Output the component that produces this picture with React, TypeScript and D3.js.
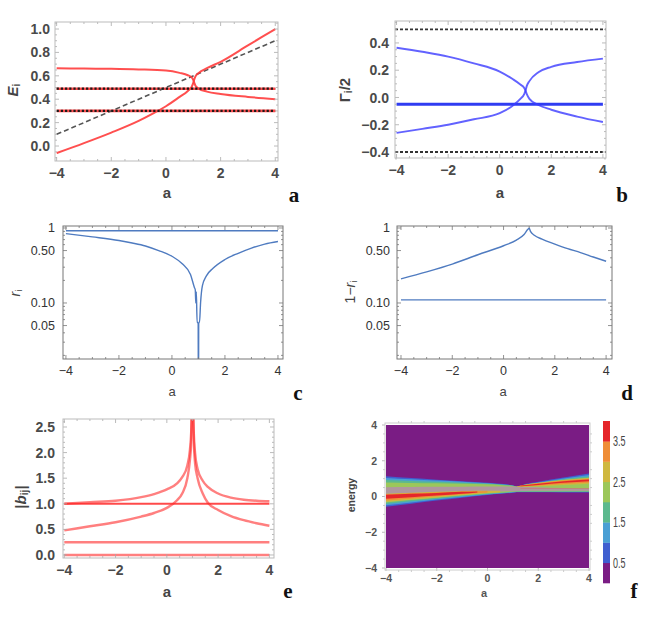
import { useEffect, useRef } from "react";
import * as d3 from "d3";

type Pt = [number, number];

const W = 654;
const H = 628;

// shared x axis (parameter a)
const aTicks = [-4, -2, 0, 2, 4];

// (a) real parts E_i
const eTicks = [0, 0.2, 0.4, 0.6, 0.8, 1.0];
const eFlat = [0.49, 0.3];
const eDiag: Pt[] = [[-4, 0.1], [4, 0.9]];
const eUpper: Pt[] = [[-4, 0.664], [-3, 0.662], [-2, 0.66], [-1, 0.655], [0, 0.645], [0.5, 0.625], [0.8, 0.605], [0.95, 0.585], [1.0, 0.565], [1.03, 0.545], [1.08, 0.515], [1.2, 0.49], [1.5, 0.465], [2, 0.445], [3, 0.42], [4, 0.4]];
const eLower: Pt[] = [[-4, -0.06], [-3, 0.025], [-2, 0.115], [-1, 0.215], [-0.5, 0.275], [0, 0.34], [0.5, 0.42], [0.8, 0.47], [0.95, 0.51], [1.0, 0.54], [1.03, 0.565], [1.08, 0.595], [1.2, 0.625], [1.5, 0.665], [2, 0.72], [3, 0.86], [4, 1.0]];

// (b) widths Gamma_i/2
const gTicks = [-0.4, -0.2, 0, 0.2, 0.4];
const gDashed = [0.5, -0.4];
const gFlat = -0.05;
const gUpper: Pt[] = [[-4, 0.365], [-3, 0.335], [-2, 0.3], [-1, 0.25], [0, 0.19], [0.5, 0.135], [0.8, 0.095], [0.95, 0.07], [1.0, 0.05], [1.05, 0.025], [1.15, -0.01], [1.5, -0.055], [2, -0.09], [3, -0.14], [4, -0.18]];
const gLower: Pt[] = [[-4, -0.26], [-3, -0.23], [-2, -0.2], [-1, -0.16], [0, -0.115], [0.5, -0.06], [0.8, -0.01], [0.95, 0.025], [1.0, 0.05], [1.05, 0.085], [1.15, 0.12], [1.5, 0.185], [2, 0.225], [3, 0.26], [4, 0.285]];

// (c) r_i and (d) 1 - r_i, log axis
const logTicks = [0.05, 0.1, 0.5, 1];
const logLabels = ["0.05", "0.10", "0.50", "1"];
const rFlat = 0.92;
const rCurve: Pt[] = [[-4, 0.84], [-3, 0.76], [-2, 0.68], [-1.5, 0.63], [-1, 0.575], [-0.5, 0.5], [0, 0.42], [0.4, 0.33], [0.7, 0.24], [0.85, 0.16], [0.88, 0.15], [0.9, 0.1], [0.92, 0.14], [0.95, 0.055], [0.99, 0.055], [0.995, 0.01], [1.005, 0.01], [1.01, 0.055], [1.04, 0.055], [1.08, 0.1], [1.15, 0.17], [1.3, 0.23], [1.55, 0.29], [2, 0.38], [2.5, 0.46], [3, 0.54], [3.5, 0.61], [4, 0.66]];
const qFlat = 0.11;
const qCurve: Pt[] = [[-4, 0.21], [-3, 0.26], [-2, 0.33], [-1, 0.44], [0, 0.58], [0.5, 0.69], [0.8, 0.82], [0.95, 0.96], [1.0, 0.99], [1.05, 0.9], [1.2, 0.8], [1.5, 0.71], [2, 0.61], [2.5, 0.53], [3, 0.47], [3.5, 0.41], [4, 0.36]];

// (e) |b_ij|
const bTicks = [0, 0.5, 1, 1.5, 2, 2.5];
const bFlat = [1.0, 0.25, 0.0];
const bUpperLeft: Pt[] = [[-4, 1.0], [-3, 1.03], [-2, 1.06], [-1, 1.13], [-0.5, 1.19], [0, 1.28], [0.4, 1.4], [0.6, 1.52], [0.8, 1.75], [0.9, 2.05], [0.95, 2.4], [0.98, 2.9]];
const bUpperRight: Pt[] = [[1.02, 2.9], [1.05, 2.4], [1.1, 2.0], [1.2, 1.68], [1.4, 1.45], [1.6, 1.33], [2, 1.2], [2.5, 1.12], [3, 1.08], [3.5, 1.06], [4, 1.05]];
const bLowerLeft: Pt[] = [[-4, 0.48], [-3, 0.56], [-2, 0.64], [-1, 0.75], [-0.5, 0.82], [0, 0.92], [0.4, 1.07], [0.6, 1.2], [0.8, 1.5], [0.9, 1.85], [0.95, 2.2], [0.98, 2.9]];
const bLowerRight: Pt[] = [[1.02, 2.9], [1.05, 2.25], [1.1, 1.8], [1.2, 1.5], [1.4, 1.2], [1.6, 1.02], [2, 0.88], [2.5, 0.76], [3, 0.68], [3.5, 0.62], [4, 0.57]];

// (f) spectral density: contour bands
const fTicks = [-4, -2, 0, 2, 4];
const fGrid = [-4, -3, -2, -1, 0, 0.5, 1, 1.15, 1.5, 2, 3, 4];
const blueTop = [1.13, 1.03, 0.94, 0.86, 0.77, 0.71, 0.62, 0.56, 0.7, 0.83, 1.06, 1.28];
const blueBot = [-0.58, -0.4, -0.23, -0.07, 0.08, 0.15, 0.21, 0.24, 0.24, 0.24, 0.23, 0.22];
const tealTop = [1.04, 0.96, 0.89, 0.82, 0.74, 0.69, 0.61, 0.555, 0.67, 0.79, 1.01, 1.2];
const tealBot = [-0.49, -0.33, -0.17, -0.03, 0.11, 0.17, 0.23, 0.255, 0.255, 0.255, 0.25, 0.25];
const greenTop = [0.92, 0.87, 0.82, 0.77, 0.71, 0.67, 0.6, 0.55, 0.65, 0.76, 0.97, 1.12];
const greenBot = [-0.42, -0.27, -0.12, 0.01, 0.14, 0.19, 0.25, 0.27, 0.27, 0.27, 0.27, 0.27];
const ygTop = [0.78, 0.76, 0.74, 0.72, 0.68, 0.65, 0.59, 0.55, 0.63, 0.73, 0.93, 1.05];
const ygBot = [-0.33, -0.2, -0.07, 0.05, 0.17, 0.21, 0.27, 0.29, 0.29, 0.29, 0.29, 0.29];
const grayTop = [0.52, 0.53, 0.54, 0.55, 0.56, 0.56, 0.56, 0.55, 0.55, 0.52, 0.48, 0.46];
const grayBot = [0.13, 0.17, 0.21, 0.25, 0.27, 0.28, 0.29, 0.3, 0.31, 0.32, 0.32, 0.32];
const leftOliveA = [-4, -3, -2, -1, 0, 0.5];
const leftOliveTop = [0.16, 0.21, 0.26, 0.3, 0.32, 0.32];
const leftOliveBot = [-0.3, -0.17, -0.05, 0.08, 0.19, 0.24];
const leftOrangeA = [-4, -3, -2, -1, 0];
const leftOrangeTop = [0.13, 0.18, 0.23, 0.28, 0.3];
const leftOrangeBot = [-0.22, -0.11, 0.01, 0.13, 0.22];
const leftRedA = [-4, -3, -2, -1, -0.4];
const leftRedTop = [0.1, 0.15, 0.2, 0.26, 0.28];
const leftRedBot = [-0.12, -0.04, 0.05, 0.16, 0.23];
const rightHotA = [1.15, 1.5, 2, 3, 4];
const rightOliveTop = [0.56, 0.67, 0.77, 0.92, 1.03];
const rightOliveBot = [0.54, 0.55, 0.58, 0.65, 0.72];
const rightOrangeTop = [0.555, 0.65, 0.74, 0.89, 0.99];
const rightOrangeBot = [0.545, 0.57, 0.61, 0.7, 0.78];
const rightRedA = [1.3, 2, 3, 4];
const rightRedTop = [0.61, 0.71, 0.85, 0.95];
const rightRedBot = [0.58, 0.65, 0.77, 0.86];
const midLineA = [1.3, 4];
const midLineTop = [0.46, 0.46];
const midLineBot = [0.43, 0.43];

const levels = [0, 0.5, 1, 1.5, 2, 2.5, 3, 3.5, 4];
const levelColors = ["#7a1c84", "#3f5fd0", "#4a9fd4", "#5cb98e", "#9cc75a", "#cfb83f", "#ef8d37", "#e5262a"];
const barLabels = [0.5, 1.5, 2.5, 3.5];

const SANS = "Liberation Sans, Arial, sans-serif";
const SERIF = "Liberation Serif, Times New Roman, serif";
const fmtMinus = (s: string) => s.replace("-", "\u2212");

type Sel = d3.Selection<SVGGElement, unknown, null, undefined>;

interface FrameOpts {
  xMajor: number[];
  xMinor: number[];
  yMajor: number[];
  yMinor: number[];
  frame: string;
  tickColor: string;
  yLabels?: string[];
  yFmt: (v: number) => string;
  font: { size: number; weight: string; fill: string };
  xGap: number;
  yGap: number;
}

function drawFrame(g: Sel, x: any, y: any, o: FrameOpts) {
  const [x0, x1] = x.range();
  const [y0, y1] = y.range();
  const line = (ax: number, ay: number, bx: number, by: number, w = 0.8) =>
    g.append("line").attr("x1", ax).attr("y1", ay).attr("x2", bx).attr("y2", by)
      .attr("stroke", o.tickColor).attr("stroke-width", w);

  o.xMajor.forEach((v) => { const p = x(v); line(p, y0, p, y0 - 4); line(p, y1, p, y1 + 4); });
  o.xMinor.forEach((v) => { const p = x(v); line(p, y0, p, y0 - 2); line(p, y1, p, y1 + 2); });
  o.yMajor.forEach((v) => { const p = y(v); line(x0, p, x0 + 4, p); line(x1, p, x1 - 4, p); });
  o.yMinor.forEach((v) => { const p = y(v); line(x0, p, x0 + 2, p); line(x1, p, x1 - 2, p); });

  g.append("rect").attr("x", x0).attr("y", y1).attr("width", x1 - x0).attr("height", y0 - y1)
    .attr("fill", "none").attr("stroke", o.frame).attr("stroke-width", 1);

  const txt = (s: string, px: number, py: number, anchor: string) =>
    g.append("text").attr("x", px).attr("y", py).attr("text-anchor", anchor)
      .attr("font-family", SANS).attr("font-size", o.font.size).attr("font-weight", o.font.weight)
      .attr("fill", o.font.fill).text(s);

  o.xMajor.forEach((v) => txt(fmtMinus(String(v)), x(v), y0 + o.xGap, "middle"));
  o.yMajor.forEach((v, i) =>
    txt(o.yLabels ? o.yLabels[i] : fmtMinus(o.yFmt(v)), x0 - o.yGap, y(v) + o.font.size * 0.36, "end"));
}

function clip(svg: any, id: string, x: any, y: any) {
  const [x0, x1] = x.range();
  const [y0, y1] = y.range();
  svg.select("defs").append("clipPath").attr("id", id)
    .append("rect").attr("x", x0).attr("y", y1).attr("width", x1 - x0).attr("height", y0 - y1);
}

function rotLabel(svg: any, cx: number, cy: number, parts: [string, string, number][], size: number, weight = "normal") {
  const t = svg.append("text").attr("transform", `translate(${cx},${cy}) rotate(-90)`)
    .attr("text-anchor", "middle").attr("dominant-baseline", "middle")
    .attr("font-family", SANS).attr("font-size", size).attr("font-weight", weight).attr("fill", "#444");
  parts.forEach(([s, style, dy]) => {
    const sp = t.append("tspan").text(s);
    if (style === "i") sp.attr("font-style", "italic");
    if (style === "sub") sp.attr("font-size", size * 0.68).attr("dy", dy);
    if (style === "up") sp.attr("dy", dy);
  });
}

function panelLetter(svg: any, s: string, x: number, y: number) {
  svg.append("text").attr("x", x).attr("y", y).attr("text-anchor", "middle")
    .attr("font-family", SERIF).attr("font-size", 21).attr("font-weight", "bold").attr("fill", "#111").text(s);
}

function axisA(svg: any, x: number, y: number, size: number, weight: string) {
  svg.append("text").attr("x", x).attr("y", y).attr("text-anchor", "middle")
    .attr("font-family", SANS).attr("font-size", size).attr("font-weight", weight).attr("fill", "#444").text("a");
}

const minorRange = (lo: number, hi: number, step: number, majors: number[]) =>
  d3.range(lo, hi + step / 2, step).map((v) => +v.toFixed(4)).filter((v) => !majors.some((m) => Math.abs(m - v) < 1e-6));

export default function App() {
  const ref = useRef<SVGSVGElement>(null);

  useEffect(() => {
    if (!ref.current) return;
    const svg = d3.select(ref.current);
    svg.selectAll("*").remove();
    svg.append("defs");

    const xMinorA = minorRange(-4, 4, 0.5, aTicks);
    const boldFont = { size: 14, weight: "bold", fill: "#4a4a4a" };
    const plainFont = { size: 12.5, weight: "normal", fill: "#333" };

    // ---------- (a)
    {
      const x = d3.scaleLinear().domain([-4.06, 4.1]).range([55, 278]);
      const y = d3.scaleLinear().domain([-0.128, 1.06]).range([161, 22]);
      const g = svg.append("g");
      clip(svg, "ca", x, y);
      const line = d3.line<Pt>().x((d) => x(d[0])).y((d) => y(d[1])).curve(d3.curveMonotoneX);
      const pg = g.append("g").attr("clip-path", "url(#ca)");
      eFlat.forEach((v) => {
        pg.append("path").attr("d", line([[-4, v], [4, v]])).attr("stroke", "#ff4a4a").attr("stroke-width", 2.6).attr("fill", "none");
      });
      pg.append("path").attr("d", line(eDiag)).attr("stroke", "#555").attr("stroke-width", 1.6)
        .attr("stroke-dasharray", "5 3").attr("fill", "none");
      [eUpper, eLower].forEach((c) =>
        pg.append("path").attr("d", line(c)).attr("stroke", "#ff3c3c").attr("stroke-opacity", 0.9)
          .attr("stroke-width", 2).attr("fill", "none"));
      eFlat.forEach((v) => {
        pg.append("path").attr("d", line([[-4, v], [4, v]])).attr("stroke", "#1a1a1a").attr("stroke-width", 2.2)
          .attr("stroke-dasharray", "2.2 2").attr("fill", "none");
      });
      drawFrame(g, x, y, {
        xMajor: aTicks, xMinor: xMinorA, yMajor: eTicks, yMinor: minorRange(-0.1, 1.05, 0.05, eTicks),
        frame: "#bbb", tickColor: "#aaa", yFmt: (v) => v.toFixed(1), font: boldFont, xGap: 17, yGap: 5,
      });
      axisA(svg, 167, 198, 15, "bold");
      rotLabel(svg, 14, 90, [["E", "i", 0], ["i", "sub", 3]], 15, "bold");
      panelLetter(svg, "a", 294, 202);
    }

    // ---------- (b)
    {
      const x = d3.scaleLinear().domain([-4.06, 4.12]).range([395, 606]);
      const y = d3.scaleLinear().domain([-0.444, 0.561]).range([158, 21]);
      const g = svg.append("g");
      clip(svg, "cb", x, y);
      const line = d3.line<Pt>().x((d) => x(d[0])).y((d) => y(d[1])).curve(d3.curveMonotoneX);
      const pg = g.append("g").attr("clip-path", "url(#cb)");
      gDashed.forEach((v) =>
        pg.append("path").attr("d", line([[-4.06, v], [4.12, v]])).attr("stroke", "#333").attr("stroke-width", 1.8)
          .attr("stroke-dasharray", "3 2").attr("fill", "none"));
      pg.append("path").attr("d", line([[-4, gFlat], [4, gFlat]])).attr("stroke", "#2f3cf2").attr("stroke-width", 3).attr("fill", "none");
      [gUpper, gLower].forEach((c) =>
        pg.append("path").attr("d", line(c)).attr("stroke", "#3b3bff").attr("stroke-opacity", 0.8)
          .attr("stroke-width", 1.9).attr("fill", "none"));
      drawFrame(g, x, y, {
        xMajor: aTicks, xMinor: xMinorA, yMajor: gTicks, yMinor: minorRange(-0.45, 0.55, 0.05, gTicks),
        frame: "#bbb", tickColor: "#aaa", yFmt: (v) => v.toFixed(1), font: boldFont, xGap: 17, yGap: 6,
      });
      axisA(svg, 500, 198, 15, "bold");
      rotLabel(svg, 346, 90, [["\u0393", "", 0], ["i", "sub", 3], ["/2", "up", -3]], 15, "bold");
      panelLetter(svg, "b", 622, 202);
    }

    // ---------- (c) and (d)
    const logPanel = (id: string, xr: [number, number], xd: [number, number], flat: number, curve: Pt[], gap: number) => {
      const x = d3.scaleLinear().domain(xd).range(xr);
      const y = d3.scaleLog().domain([0.0179, 1.063]).range([359, 226]);
      const g = svg.append("g");
      clip(svg, id, x, y);
      const line = d3.line<Pt>().x((d) => x(d[0])).y((d) => y(d[1])).curve(d3.curveMonotoneX);
      const pg = g.append("g").attr("clip-path", `url(#${id})`);
      pg.append("path").attr("d", line([[-4, flat], [4, flat]])).attr("stroke", "#4f7bc0").attr("stroke-width", 1.4).attr("fill", "none");
      pg.append("path").attr("d", line(curve)).attr("stroke", "#4f7bc0").attr("stroke-width", 1.4).attr("fill", "none");
      const yMinor = [0.02, 0.03, 0.04, 0.06, 0.07, 0.08, 0.09, 0.2, 0.3, 0.4, 0.6, 0.7, 0.8, 0.9];
      drawFrame(g, x, y, {
        xMajor: aTicks, xMinor: xMinorA, yMajor: logTicks, yMinor, yLabels: logLabels,
        frame: "#777", tickColor: "#777", yFmt: (v) => String(v), font: plainFont, xGap: 16, yGap: gap,
      });
    };
    logPanel("cc", [63, 283], [-4.11, 4.19], rFlat, rCurve, 8);
    axisA(svg, 172, 396, 13, "normal");
    rotLabel(svg, 16, 293, [["r", "i", 0], ["i", "sub", 3]], 14);
    panelLetter(svg, "c", 298, 400);

    logPanel("cd", [397, 612], [-4.156, 4.23], qFlat, qCurve, 7);
    axisA(svg, 503, 396, 13, "normal");
    rotLabel(svg, 351, 292, [["1\u2212", "", 0], ["r", "i", 0], ["i", "sub", 3]], 14);
    panelLetter(svg, "d", 627, 400);

    // ---------- (e)
    {
      const x = d3.scaleLinear().domain([-4.05, 4.18]).range([63, 274]);
      const y = d3.scaleLinear().domain([-0.059, 2.656]).range([558, 419]);
      const g = svg.append("g");
      clip(svg, "ce", x, y);
      const line = d3.line<Pt>().x((d) => x(d[0])).y((d) => y(d[1])).curve(d3.curveMonotoneX);
      const pg = g.append("g").attr("clip-path", "url(#ce)");
      bFlat.forEach((v, i) =>
        pg.append("path").attr("d", line([[-4, v], [4, v]])).attr("stroke", "#ff2a2a")
          .attr("stroke-opacity", i === 0 ? 0.85 : 0.6).attr("stroke-width", i === 0 ? 2 : 2.4).attr("fill", "none"));
      [bUpperLeft, bUpperRight, bLowerLeft, bLowerRight].forEach((c) =>
        pg.append("path").attr("d", line(c)).attr("stroke", "#ff2a2a").attr("stroke-opacity", 0.6)
          .attr("stroke-width", 2.4).attr("fill", "none"));
      drawFrame(g, x, y, {
        xMajor: aTicks, xMinor: xMinorA, yMajor: bTicks, yMinor: minorRange(0, 2.6, 0.1, bTicks),
        frame: "#bbb", tickColor: "#aaa", yFmt: (v) => v.toFixed(1), font: boldFont, xGap: 17, yGap: 8,
      });
      axisA(svg, 167, 597, 15, "bold");
      rotLabel(svg, 22, 497, [["|", "", 0], ["b", "i", 0], ["ij", "sub", 3], ["|", "up", -3]], 15, "bold");
      panelLetter(svg, "e", 288, 598);
    }

    // ---------- (f)
    {
      const x = d3.scaleLinear().domain([-4, 4]).range([386, 589]);
      const y = d3.scaleLinear().domain([-4, 4]).range([568, 425]);
      const g = svg.append("g");
      clip(svg, "cf", x, y);
      svg.select("defs").append("filter").attr("id", "soft")
        .append("feGaussianBlur").attr("stdDeviation", 0.7);
      g.append("rect").attr("x", 386).attr("y", 425).attr("width", 203).attr("height", 143).attr("fill", levelColors[0]);
      const pg = g.append("g").attr("clip-path", "url(#cf)").append("g").attr("filter", "url(#soft)");
      const band = (a: number[], top: number[], bot: number[], color: string, op = 1) => {
        const pts = a.map((v, i) => ({ a: v, t: top[i], b: bot[i] }));
        const area = d3.area<{ a: number; t: number; b: number }>()
          .x((d) => x(d.a)).y0((d) => y(d.b)).y1((d) => y(d.t)).curve(d3.curveMonotoneX);
        pg.append("path").attr("d", area(pts)).attr("fill", color).attr("fill-opacity", op);
      };
      band(fGrid, blueTop, blueBot, levelColors[1]);
      band(fGrid, tealTop, tealBot, levelColors[2]);
      band(fGrid, greenTop, greenBot, levelColors[3]);
      band(fGrid, ygTop, ygBot, levelColors[4]);
      band(fGrid, grayTop, grayBot, "#b0979f");
      band(leftOliveA, leftOliveTop, leftOliveBot, levelColors[5]);
      band(leftOrangeA, leftOrangeTop, leftOrangeBot, levelColors[6]);
      band(leftRedA, leftRedTop, leftRedBot, levelColors[7]);
      band(rightHotA, rightOliveTop, rightOliveBot, levelColors[5]);
      band(rightHotA, rightOrangeTop, rightOrangeBot, levelColors[6]);
      band(rightRedA, rightRedTop, rightRedBot, levelColors[7]);
      band(midLineA, midLineTop, midLineBot, "#e0604a", 0.7);

      const fr = g.append("g");
      fTicks.forEach((v) => {
        fr.append("line").attr("x1", x(v)).attr("x2", x(v)).attr("y1", 568).attr("y2", 571).attr("stroke", "#bbb");
        fr.append("line").attr("x1", 385).attr("x2", 382).attr("y1", y(v)).attr("y2", y(v)).attr("stroke", "#bbb");
        fr.append("text").attr("x", x(v)).attr("y", 582).attr("text-anchor", "middle")
          .attr("font-family", SANS).attr("font-size", 10.5).attr("font-weight", "bold").attr("fill", "#555").text(fmtMinus(String(v)));
        fr.append("text").attr("x", 377).attr("y", y(v) + 3.8).attr("text-anchor", "end")
          .attr("font-family", SANS).attr("font-size", 10.5).attr("font-weight", "bold").attr("fill", "#555").text(fmtMinus(String(v)));
      });
      minorRange(-4, 4, 0.5, fTicks).forEach((v) => {
        fr.append("line").attr("x1", x(v)).attr("x2", x(v)).attr("y1", 423).attr("y2", 421).attr("stroke", "#ccc");
        fr.append("line").attr("x1", x(v)).attr("x2", x(v)).attr("y1", 570).attr("y2", 572).attr("stroke", "#ccc");
        fr.append("line").attr("x1", 590).attr("x2", 592).attr("y1", y(v)).attr("y2", y(v)).attr("stroke", "#ccc");
        fr.append("line").attr("x1", 385).attr("x2", 383).attr("y1", y(v)).attr("y2", y(v)).attr("stroke", "#ccc");
      });
      fr.append("rect").attr("x", 385).attr("y", 423).attr("width", 205).attr("height", 147)
        .attr("fill", "none").attr("stroke", "#ccc");

      // colour bar
      const cy = d3.scaleLinear().domain([0, 4]).range([583, 421]);
      levelColors.forEach((c, i) => {
        svg.append("rect").attr("x", 603).attr("width", 7).attr("y", cy(levels[i + 1]))
          .attr("height", cy(levels[i]) - cy(levels[i + 1]) + 0.3).attr("fill", c);
      });
      barLabels.forEach((v) => {
        svg.append("text").attr("transform", `translate(613,${cy(v) + 5}) scale(0.6,1)`)
          .attr("font-family", SANS).attr("font-size", 15).attr("fill", "#444").text(v.toFixed(1));
      });

      svg.append("text").attr("x", 484).attr("y", 597).attr("text-anchor", "middle")
        .attr("font-family", SANS).attr("font-size", 11).attr("font-weight", "bold").attr("fill", "#555").text("a");
      rotLabel(svg, 352, 495, [["energy", "", 0]], 10.5, "bold");
      panelLetter(svg, "f", 634, 598);
    }
  }, []);

  return (
    <svg
      ref={ref}
      width={W}
      height={H}
      style={{ position: "absolute", left: 0, top: 0, background: "#fff" }}
    />
  );
}
